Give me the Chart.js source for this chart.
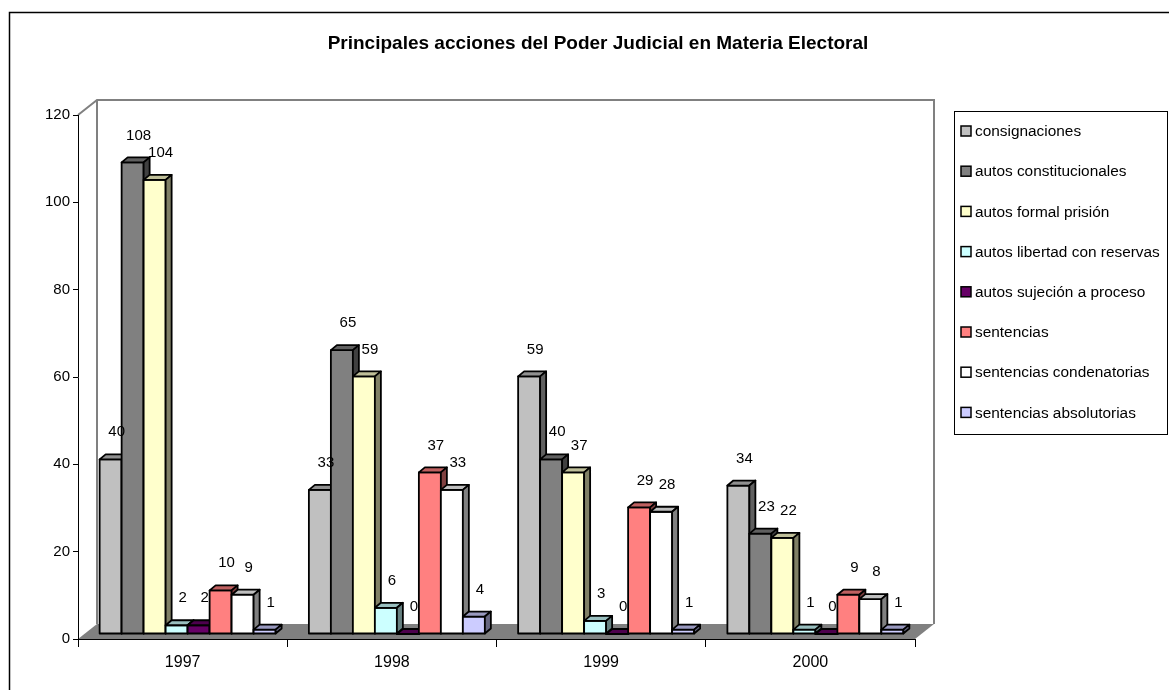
<!DOCTYPE html>
<html>
<head>
<meta charset="utf-8">
<script src="https://cdn.jsdelivr.net/npm/chart.js@4.4.0/dist/chart.umd.min.js"></script>
<style>
  body { margin: 0; background: #fff; }
  canvas { display: block; }
</style>
</head>
<body>
<canvas id="judicialChart" width="1169" height="690"></canvas>
<script>
// Data
const years = ["1997", "1998", "1999", "2000"];
const seriesNames = [
  "consignaciones",
  "autos constitucionales",
  "autos formal prisión",
  "autos libertad con reservas",
  "autos sujeción a proceso",
  "sentencias",
  "sentencias condenatorias",
  "sentencias absolutorias",
];
const consignaciones = [40, 33, 59, 34];
const autosConstitucionales = [108, 65, 40, 23];
const autosFormalPrision = [104, 59, 37, 22];
const autosLibertad = [2, 6, 3, 1];
const autosSujecion = [2, 0, 0, 0];
const sentencias = [10, 37, 29, 9];
const sentenciasCondenatorias = [9, 33, 28, 8];
const sentenciasAbsolutorias = [1, 4, 1, 1];
const yTicks = [0, 20, 40, 60, 80, 100, 120];
const chartTitle = "Principales acciones del Poder Judicial en Materia Electoral";

const seriesValues = [
  consignaciones,
  autosConstitucionales,
  autosFormalPrision,
  autosLibertad,
  autosSujecion,
  sentencias,
  sentenciasCondenatorias,
  sentenciasAbsolutorias,
];
const colors = ["#C0C0C0", "#808080", "#FFFFCC", "#CCFFFF", "#660066", "#FF8080", "#FFFFFF", "#CCCCFF"];

const FONT = "'Liberation Sans', Arial, sans-serif";
Chart.defaults.font.family = FONT;
Chart.defaults.color = "#000";

// 3D look
const WALL_DX = 19, WALL_DY = 15;   // floor / wall depth
const BAR_TX = 5, BAR_TY = -5;      // bars sit a bit behind the front plane
const BAR_DX = 6, BAR_DY = 5;       // bar depth

function shade(hex, f) {
  const n = parseInt(hex.slice(1), 16);
  const r = Math.round(((n >> 16) & 255) * f);
  const g = Math.round(((n >> 8) & 255) * f);
  const b = Math.round((n & 255) * f);
  return `rgb(${r},${g},${b})`;
}

function poly(ctx, pts, fill) {
  ctx.beginPath();
  ctx.moveTo(pts[0][0], pts[0][1]);
  for (let i = 1; i < pts.length; i++) ctx.lineTo(pts[i][0], pts[i][1]);
  ctx.closePath();
  ctx.fillStyle = fill;
  ctx.fill();
  ctx.stroke();
}

const walls3d = {
  id: "walls3d",
  beforeDraw(chart) {
    const { ctx, chartArea: a } = chart;
    ctx.save();
    // floor
    ctx.beginPath();
    ctx.moveTo(a.left, a.bottom);
    ctx.lineTo(a.left + WALL_DX, a.bottom - WALL_DY);
    ctx.lineTo(a.right + WALL_DX, a.bottom - WALL_DY);
    ctx.lineTo(a.right, a.bottom);
    ctx.closePath();
    ctx.fillStyle = "#808080";
    ctx.fill();
    // wall outline
    ctx.strokeStyle = "#808080";
    ctx.lineWidth = 2;
    ctx.beginPath();
    ctx.moveTo(a.left, a.top);
    ctx.lineTo(a.left + WALL_DX, a.top - WALL_DY);
    ctx.lineTo(a.right + WALL_DX, a.top - WALL_DY);
    ctx.lineTo(a.right + WALL_DX, a.bottom - WALL_DY);
    ctx.moveTo(a.left + WALL_DX, a.top - WALL_DY);
    ctx.lineTo(a.left + WALL_DX, a.bottom - WALL_DY);
    ctx.stroke();
    ctx.restore();
  },
  beforeDatasetsDraw(chart) {
    const { ctx } = chart;
    const bars = [];
    chart.data.datasets.forEach((ds, di) => {
      chart.getDatasetMeta(di).data.forEach((el) => {
        const p = el.getProps(["x", "y", "base", "width"], true);
        bars.push({ ...p, color: ds.backgroundColor });
      });
    });
    bars.sort((a, b) => a.x - b.x);
    ctx.save();
    ctx.strokeStyle = "#000";
    ctx.lineWidth = 1.8;
    ctx.lineJoin = "round";
    bars.forEach((b) => {
      const x0 = b.x - b.width / 2 + BAR_TX;
      const x1 = b.x + b.width / 2 + BAR_TX;
      const yt = b.y + BAR_TY;
      const yb = b.base + BAR_TY;
      poly(ctx, [[x0, yt], [x1, yt], [x1, yb], [x0, yb]], b.color);
      poly(ctx, [[x0, yt], [x0 + BAR_DX, yt - BAR_DY], [x1 + BAR_DX, yt - BAR_DY], [x1, yt]], shade(b.color, 0.75));
      poly(ctx, [[x1, yt], [x1 + BAR_DX, yt - BAR_DY], [x1 + BAR_DX, yb - BAR_DY], [x1, yb]], shade(b.color, 0.5));
    });
    ctx.restore();
    return false;
  },
  afterDraw(chart) {
    const { ctx } = chart;
    ctx.save();
    ctx.fillStyle = "#000";
    // title
    ctx.font = `bold 19px ${FONT}`;
    ctx.textAlign = "center";
    ctx.textBaseline = "middle";
    ctx.fillText(chartTitle, 598, 44);
    // value labels
    ctx.font = `15px ${FONT}`;
    chart.data.datasets.forEach((ds, di) => {
      chart.getDatasetMeta(di).data.forEach((el, i) => {
        ctx.fillText(String(ds.data[i]), el.x + BAR_TX + 6, el.y + BAR_TY - 27);
      });
    });
    // legend
    const lx = 954, ly = 111, lw = 213, lh = 323;
    ctx.strokeStyle = "#000";
    ctx.lineWidth = 1;
    ctx.strokeRect(lx + 0.5, ly + 0.5, lw, lh);
    ctx.font = `15.4px ${FONT}`;
    ctx.textAlign = "left";
    ctx.lineWidth = 1.5;
    chart.data.datasets.forEach((ds, i) => {
      const cy = ly + 20 + i * 40.2;
      ctx.fillStyle = ds.backgroundColor;
      ctx.fillRect(lx + 7, cy - 5, 10, 10);
      ctx.strokeRect(lx + 7, cy - 5, 10, 10);
      ctx.fillStyle = "#000";
      ctx.fillText(ds.label, lx + 21, cy + 1);
    });
    // outer frame
    ctx.lineWidth = 1.5;
    ctx.strokeRect(9.5, 12.5, 1300, 800);
    ctx.restore();
  },
};

const ctx = document.getElementById("judicialChart").getContext("2d");
const judicialChart = new Chart(ctx, {
  type: "bar",
  data: {
    labels: years,
    datasets: seriesNames.map((name, i) => ({
      label: name,
      data: seriesValues[i],
      backgroundColor: colors[i],
      borderColor: "#000",
      borderWidth: 1,
      barPercentage: 1,
      categoryPercentage: 0.841,
    })),
  },
  options: {
    responsive: false,
    animation: false,
    events: [],
    layout: {
      padding: { left: 0, right: 254, top: 115, bottom: 0 },
    },
    plugins: {
      legend: { display: false },
      tooltip: { enabled: false },
      title: { display: false },
    },
    scales: {
      x: {
        grid: {
          offset: true,
          drawOnChartArea: false,
          drawTicks: true,
          tickLength: 8,
          color: "#000",
        },
        border: { color: "#000", width: 1 },
        ticks: { font: { size: 16 }, color: "#000", padding: 6.4 },
        afterFit(scale) { scale.height = 51; },
      },
      y: {
        min: yTicks[0],
        max: yTicks[yTicks.length - 1],
        afterBuildTicks(scale) { scale.ticks = yTicks.map((v) => ({ value: v })); },
        grid: {
          drawOnChartArea: false,
          drawTicks: true,
          tickLength: 5,
          color: "#000",
        },
        border: { color: "#000", width: 1 },
        ticks: { font: { size: 15 }, color: "#000", padding: 3 },
        afterFit(scale) { scale.width = 78; },
      },
    },
  },
  plugins: [walls3d],
});
</script>
</body>
</html>
